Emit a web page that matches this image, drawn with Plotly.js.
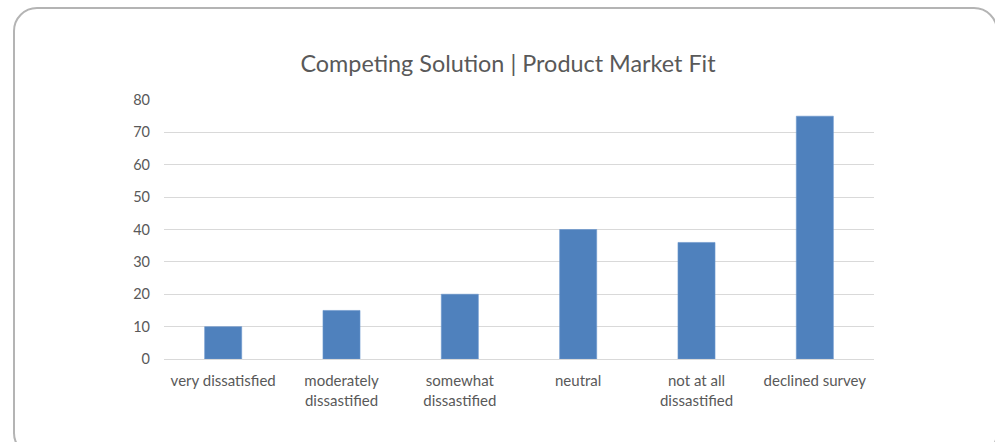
<!DOCTYPE html>
<html>
<head>
<meta charset="utf-8">
<script src="https://cdn.plot.ly/plotly-3.0.1.min.js"></script>
<style>
html,body{margin:0;padding:0;background:#fff;overflow:hidden;}
#frame{position:absolute;left:13px;top:7px;width:985px;height:450px;border:2.5px solid #b4b4b4;border-radius:24px;box-sizing:border-box;}
#chart{position:absolute;left:0;top:0;width:995px;height:442px;}
</style>
</head>
<body>
<div id="frame"></div>
<div id="chart"></div>
<script>
const categories = ["very dissatisfied", "moderately dissastified", "somewhat dissastified", "neutral", "not at all dissastified", "declined survey"];
const tickLabels = ["very dissatisfied", "moderately<br>dissastified", "somewhat<br>dissastified", "neutral", "not at all<br>dissastified", "declined survey"];
const values = [10, 15, 20, 40, 36, 75];
const yTicks = [0, 10, 20, 30, 40, 50, 60, 70, 80];

const trace = {
  type: 'bar',
  x: categories,
  y: values,
  marker: {color: '#4f81bd', line: {color: '#6a95cc', width: 0.6}},
  hoverinfo: 'skip'
};

const layout = {
  width: 995,
  height: 442,
  margin: {l: 164, r: 121, t: 100, b: 83},
  paper_bgcolor: 'rgba(0,0,0,0)',
  plot_bgcolor: 'rgba(0,0,0,0)',
  font: {family: 'Lato, "Open Sans", sans-serif', color: '#595959', size: 14},
  title: {
    text: 'Competing Solution | Product Market Fit',
    font: {family: 'Lato, "Open Sans", sans-serif', size: 23.4, color: '#595959'},
    x: 508/995, xanchor: 'center', xref: 'container',
    y: 1 - 64/442, yanchor: 'middle', yref: 'container'
  },
  bargap: 0.687,
  showlegend: false,
  xaxis: {
    tickmode: 'array',
    tickvals: categories,
    ticktext: tickLabels,
    showgrid: false,
    showline: true,
    linecolor: '#d9d9d9',
    linewidth: 1,
    ticks: '',
    ticklabelstandoff: 8,
    tickfont: {size: 15, color: '#595959'},
    fixedrange: true
  },
  yaxis: {
    range: [0, 80],
    tickmode: 'array',
    tickvals: yTicks,
    showgrid: true,
    gridcolor: '#d9d9d9',
    gridwidth: 1,
    zeroline: false,
    showline: false,
    ticks: '',
    ticklabelstandoff: 13,
    tickfont: {size: 14.5, color: '#595959'},
    fixedrange: true
  }
};

Plotly.newPlot('chart', [trace], layout, {displayModeBar: false, staticPlot: true});
</script>
</body>
</html>
